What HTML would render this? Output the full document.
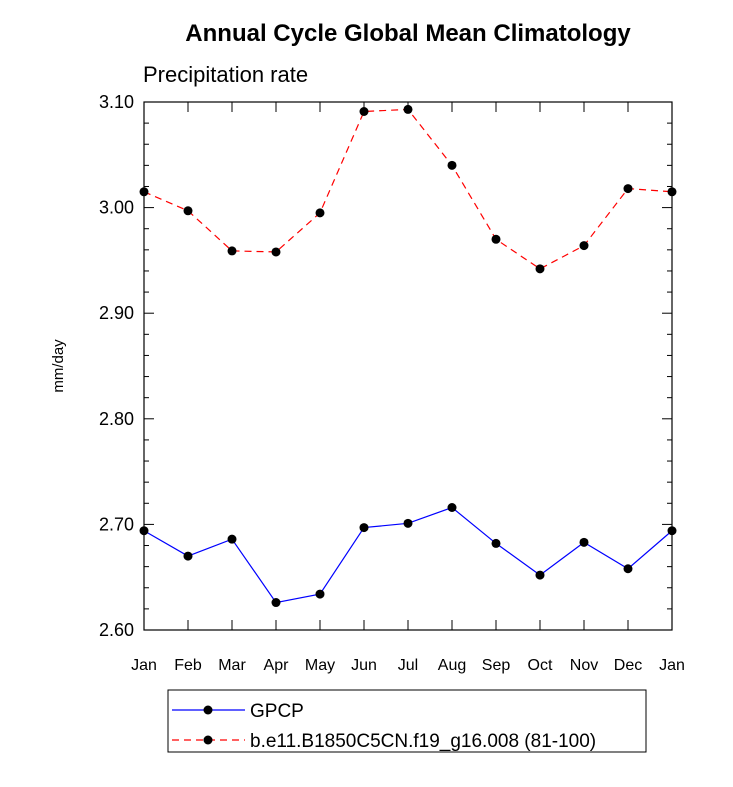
<!DOCTYPE html>
<html><head><meta charset="utf-8"><style>
body{margin:0;background:#fff;}
svg{font-family:"Liberation Sans",sans-serif;}
</style></head><body>
<svg width="733" height="782">
<text x="408" y="41" text-anchor="middle" font-size="24" font-weight="bold">Annual Cycle Global Mean Climatology</text>
<text x="143" y="82" font-size="22">Precipitation rate</text>
<text transform="translate(63,366) rotate(-90)" text-anchor="middle" font-size="15">mm/day</text>
<rect x="144" y="102" width="528" height="528" fill="none" stroke="#000" stroke-width="1.2"/>
<g id="axes"></g>
<g id="series"></g>
<g>
<rect x="168" y="690" width="478" height="62" fill="none" stroke="#000" stroke-width="1"/>
<line x1="172" y1="710" x2="245" y2="710" stroke="#00f" stroke-width="1.2"/>
<circle cx="208" cy="710" r="4.5" fill="#000"/>
<text x="250" y="717" font-size="19">GPCP</text>
<line x1="172" y1="740" x2="245" y2="740" stroke="#f00" stroke-width="1.2" stroke-dasharray="7,5"/>
<circle cx="208" cy="740" r="4.5" fill="#000"/>
<text x="250" y="747" font-size="19">b.e11.B1850C5CN.f19_g16.008 (81-100)</text>
</g>
</svg>
<script>
const months=["Jan","Feb","Mar","Apr","May","Jun","Jul","Aug","Sep","Oct","Nov","Dec","Jan"];
const gpcp=[2.694,2.670,2.686,2.626,2.634,2.697,2.701,2.716,2.682,2.652,2.683,2.658,2.694];
const model=[3.015,2.997,2.959,2.958,2.995,3.091,3.093,3.040,2.970,2.942,2.964,3.018,3.015];
const yTicks=[2.60,2.70,2.80,2.90,3.00,3.10];
const NS="http://www.w3.org/2000/svg";
const x=i=>144+i*44;
const y=v=>630-(v-2.60)/0.5*528;
function mk(t,a,p){const e=document.createElementNS(NS,t);for(const k in a)e.setAttribute(k,a[k]);p.appendChild(e);return e;}
const ax=document.getElementById('axes');
for(let v=2.60;v<=3.1001;v+=0.02){
 const yy=y(v);const major=Math.abs(Math.round(v*100)%10)<0.5;const L=major?10:5;
 const t1=mk('line',{x1:144,x2:144+L,y1:yy,y2:yy,stroke:'#000','stroke-width':1},ax);
 
 
 mk('line',{x1:672,x2:672-L,y1:yy,y2:yy,stroke:'#000','stroke-width':1},ax);
}
yTicks.forEach(v=>{
 const t=mk('text',{x:134,y:y(v)+6,'text-anchor':'end','font-size':18},ax);
 t.textContent=v.toFixed(2);
 
 
});
months.forEach((m,i)=>{
 mk('line',{x1:x(i),x2:x(i),y1:630,y2:620,stroke:'#000'},ax);
 mk('line',{x1:x(i),x2:x(i),y1:102,y2:112,stroke:'#000'},ax);
 const t=mk('text',{x:x(i),y:670,'text-anchor':'middle','font-size':16},ax);
 t.textContent=m;
 
 
});
const sg=document.getElementById('series');
function draw(d,col,dash,name){
 const pl=mk('polyline',{points:d.map((v,i)=>x(i)+','+y(v)).join(' '),fill:'none',stroke:col,'stroke-width':1.2,'stroke-dasharray':dash},sg);
 
 
 d.forEach((v,i)=>{const c=mk('circle',{cx:x(i),cy:y(v),r:4.5,fill:'#000'},sg);
 
 });
}
draw(gpcp,'#00f','none','gpcp');
draw(model,'#f00','7,5','model');
</script>
</body></html>
